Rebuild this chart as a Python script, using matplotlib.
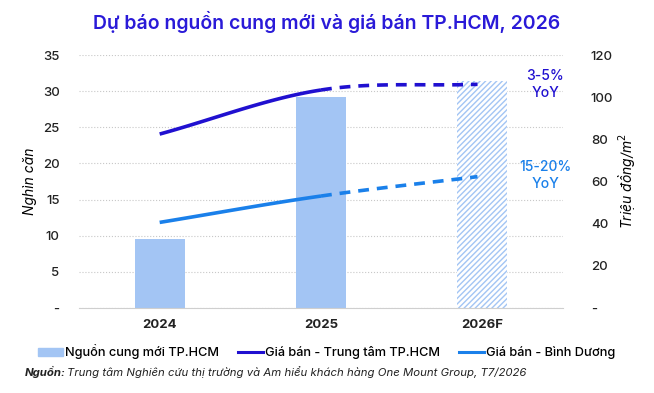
import numpy as np
import matplotlib
matplotlib.use("Agg")
import matplotlib.pyplot as plt
from matplotlib.patches import Patch
from matplotlib.lines import Line2D

plt.rcParams['font.family'] = ['Inter', 'DejaVu Sans']
plt.rcParams['hatch.linewidth'] = 1.0

# Data
years = ["2024", "2025", "2026F"]
supply = [9.6, 29.2, 31.4]            # Nghìn căn
price_hcm = [82.5, 103.4, 106.1]      # Triệu đồng/m2
price_bd = [40.6, 53.1, 62.3]

C_BAR = "#a3c5f4"
C_HCM = "#2010d0"
C_BD = "#1a80ea"
C_GRID = "#c8c8c8"
C_TXT = "#222222"


def smooth(y, n=40):
    """Cardinal (Catmull-Rom) curve between successive points, per segment."""
    y = np.asarray(y, dtype=float)
    m = np.gradient(y)
    segs = []
    for i in range(len(y) - 1):
        t = np.linspace(0, 1, n)
        h00 = 2*t**3 - 3*t**2 + 1
        h10 = t**3 - 2*t**2 + t
        h01 = -2*t**3 + 3*t**2
        h11 = t**3 - t**2
        segs.append((i + t, h00*y[i] + h10*m[i] + h01*y[i+1] + h11*m[i+1]))
    return segs


fig = plt.figure(figsize=(6.54, 3.93), dpi=100)
ax = fig.add_axes([79/654, 1 - 308/393, (563 - 79)/654, (308 - 55)/393])
ax2 = ax.twinx()

x = np.arange(len(years))
w = 0.31
ax.bar(x[:2], supply[:2], width=w, color=C_BAR, zorder=2)
ax.bar(x[2], supply[2], width=w, color="white", edgecolor=C_BAR, hatch="//////",
       linewidth=0, zorder=2)

ax.set_xlim(-0.5, 2.5)
ax.set_ylim(0, 35)
ax.set_yticks(np.arange(0, 36, 5))
ax.set_yticklabels(["-"] + [str(v) for v in range(5, 36, 5)], fontweight="medium")
ax.set_xticks(x)
ax.set_xticklabels(years, fontweight="bold")
ax.grid(axis="y", color=C_GRID, linestyle=":", linewidth=0.8, zorder=0)
ax.set_axisbelow(True)
for s in ["top", "right", "left"]:
    ax.spines[s].set_visible(False)
ax.spines["bottom"].set_color("#cfcfcf")
ax.tick_params(length=0, labelsize=9.5, colors=C_TXT, pad=14)
ax.tick_params(axis="x", pad=8, labelsize=9.5)
ax.set_ylabel("Nghìn căn", fontstyle="italic", fontsize=10, labelpad=4)

ax2.set_ylim(0, 120)
ax2.set_yticks(np.arange(0, 121, 20))
ax2.set_yticklabels(["-"] + [str(v) for v in range(20, 121, 20)], fontweight="medium")
for s in ax2.spines.values():
    s.set_visible(False)
ax2.tick_params(length=0, labelsize=9.5, colors=C_TXT, pad=20)
ax2.set_ylabel("Triệu đồng/m$^2$", fontstyle="italic", fontsize=10, labelpad=2)

for vals, col in [(price_hcm, C_HCM), (price_bd, C_BD)]:
    segs = smooth(vals)
    xs, ys = segs[0]
    ax2.plot(xs, ys, color=col, linewidth=2.6, solid_capstyle="butt", zorder=3)
    xs, ys = segs[1]
    ax2.plot(xs - 0.03 * (xs - 1), ys, color=col, linewidth=2.6,
             linestyle=(0, (3, 2.2)), zorder=3)

ax2.text(2.39, 106, "3-5%\nYoY", color=C_HCM, fontsize=10, ha="center",
         va="center", linespacing=1.25, fontweight="medium")
ax2.text(2.39, 63, "15-20%\nYoY", color=C_BD, fontsize=10, ha="center",
         va="center", linespacing=1.25, fontweight="medium")

fig.text(0.5, 1 - 22/393, "Dự báo nguồn cung mới và giá bán TP.HCM, 2026",
         color="#2a1ad8", fontsize=14, ha="center", va="center", fontweight="semibold")

handles = [Patch(color=C_BAR, label="Nguồn cung mới TP.HCM"),
           Line2D([], [], color=C_HCM, linewidth=2.2, label="Giá bán - Trung tâm TP.HCM"),
           Line2D([], [], color=C_BD, linewidth=2.2, label="Giá bán - Bình Dương")]
fig.legend(handles=handles, loc="center", bbox_to_anchor=(0.5, 1 - 352/393), ncol=3,
           frameon=False, handlelength=1.9, handletextpad=0.2, columnspacing=1.5,
           prop={"size": 9.2, "weight": "medium"})

fig.text(25/654, 1 - 372/393, "Nguồn:", fontsize=8.2, fontstyle="italic",
         fontweight="bold", va="center", color=C_TXT)
fig.text(67/654, 1 - 372/393,
         "Trung tâm Nghiên cứu thị trường và Am hiểu khách hàng One Mount Group, T7/2026",
         fontsize=8.2, fontstyle="italic", va="center", color=C_TXT)

fig.savefig("out.png", dpi=100)
